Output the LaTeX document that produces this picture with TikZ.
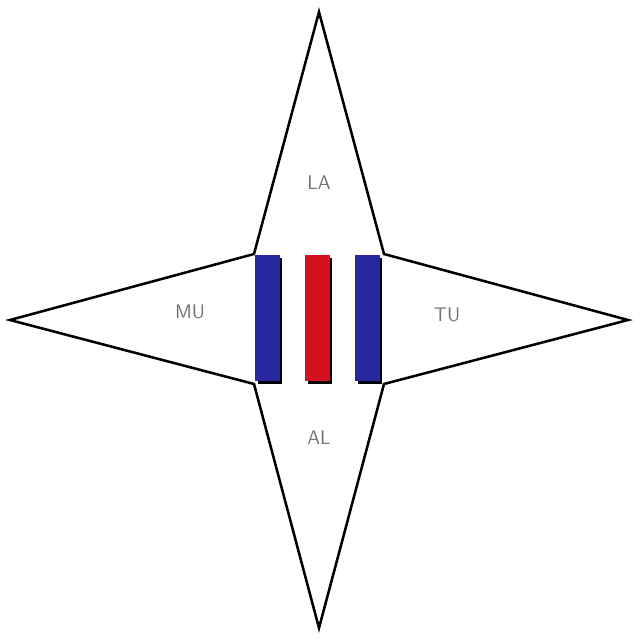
\documentclass[tikz,border=0pt]{standalone}
\usepackage{tikz}

\definecolor{barblue}{RGB}{40,40,160}
\definecolor{barred}{RGB}{210,16,30}

\tikzset{
  lbl/.style={text=black!55, font=\sffamily\fontsize{14}{14}\selectfont},
  barshadow/.style={fill=black},
}

\begin{document}
\begin{tikzpicture}[x=0.025cm, y=-0.025cm]

  \useasboundingbox (0,0) rectangle (640,640);

  % the star
  \draw[line width=1.8pt, line join=miter, fill=white]
    (319,12) -- (384,254) -- (628,320) -- (384,384) -- (319,628)
    -- (254,384) -- (10,320) -- (254,254) -- cycle;

  % the bars
  \foreach \x/\col in {255/barblue, 305/barred, 355/barblue} {
    \fill[barshadow] (\x+3,258) rectangle (\x+27,384);
    \fill[\col] (\x,255) rectangle (\x+25,381);
  }

  \node[lbl] (la) at (319,183) {LA};
  \node[lbl] (mu) at (190,312) {MU};
  \node[lbl] (tu) at (447,315) {TU};
  \node[lbl] (al) at (319,438) {AL};
\end{tikzpicture}
\end{document}
